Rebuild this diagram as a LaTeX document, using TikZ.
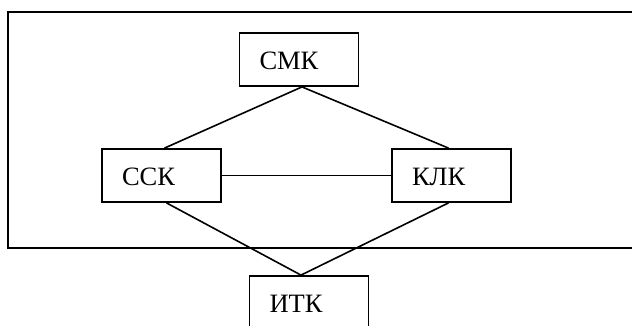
\documentclass[tikz,border=0pt]{standalone}
\usepackage{fontspec}
\setmainfont{Liberation Serif}
\begin{document}
\begin{tikzpicture}[x=1pt,y=-1pt,
  blk/.style={draw, line width=1.8pt, rectangle, minimum width=119pt, minimum height=53pt,
    text width=79pt, inner xsep=20pt, inner ysep=0pt, align=left,
    text height=36pt, text depth=17pt, font=\fontsize{26.5}{27}\selectfont},
  conn/.style={line width=1.6pt}]
\useasboundingbox (0,0) rectangle (632,325);
\clip (0,0) rectangle (632,325);
\draw[line width=2.2pt] (645,12) -- (8,12) -- (8,248) -- (645,248);
\node[blk] (smk) at (299,59.5) {СМК};
\node[blk] (ssk) at (161.5,175.5) {ССК};
\node[blk] (klk) at (451.5,175.5) {КЛК};
\node[blk] (itk) at (309,302.5) {ИТК};
\draw[conn] ([xshift=3pt]smk.south) -- ([xshift=3pt]ssk.north);
\draw[conn] ([xshift=3pt]smk.south) -- ([xshift=-3pt]klk.north);
\draw[conn] (ssk.east) -- (klk.west);
\draw[conn] ([xshift=5pt]ssk.south) -- ([xshift=-8pt]itk.north);
\draw[conn] ([xshift=-3pt]klk.south) -- ([xshift=-8pt]itk.north);
\end{tikzpicture}
\end{document}
